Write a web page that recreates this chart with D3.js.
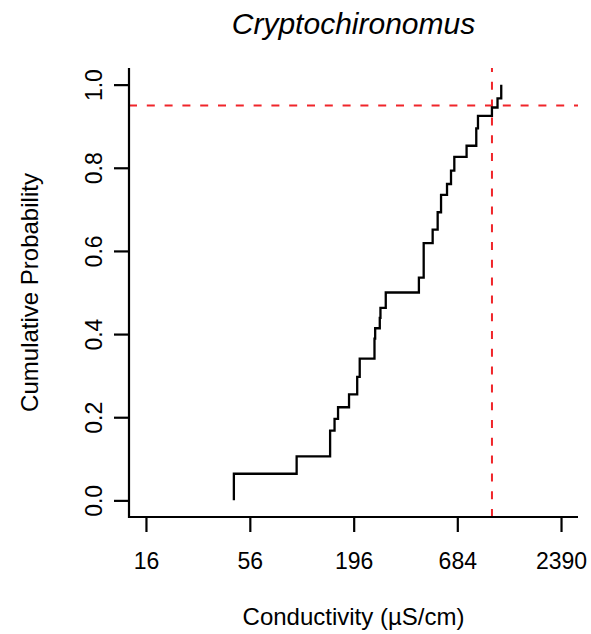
<!DOCTYPE html>
<html>
<head>
<meta charset="utf-8">
<script src="https://cdn.jsdelivr.net/npm/d3@7"></script>
<style>
  body { margin: 0; background: #fff; }
  text { font-family: "Liberation Sans", Arial, sans-serif; fill: #000; }
</style>
</head>
<body>
<svg id="chart"></svg>
<script>
let width = 591
let height = 634

// step positions of the ECDF (conductivity, uS/cm) and the level reached there
let stepX = [46.2, 98.5, 147.5, 155.6, 162.3, 185.3, 204.5, 210.8, 251.9, 254.0,
  268.5, 270.7, 288.6, 430.4, 456.0, 508.1, 539.7, 562.2, 604.2, 634.0,
  659.8, 765.0, 859.9, 877.7, 1038.7, 1111, 1162]
let stepY = [0.064, 0.106, 0.168, 0.196, 0.224, 0.255, 0.297, 0.341, 0.389, 0.414,
  0.439, 0.463, 0.500, 0.536, 0.619, 0.651, 0.693, 0.735, 0.761, 0.793,
  0.826, 0.853, 0.895, 0.925, 0.945, 0.967, 1.0]

let xTicks = [16, 56, 196, 684, 2390]
let yTicks = [0, 0.2, 0.4, 0.6, 0.8, 1.0]

// 95th percentile reference lines
let refProb = 0.95
let refCond = 1039

let svg = d3.select("#chart")
  .attr("width", width)
  .attr("height", height)

let plotLeft = 129, plotRight = 578, plotTop = 68, plotBottom = 517

let x = d3.scaleLog()
  .domain([13.04, 2933])
  .range([plotLeft, plotRight])

let y = d3.scaleLinear()
  .domain([-0.04, 1.04])
  .range([plotBottom, plotTop])

// reference lines
svg.append("line")
  .attr("x1", plotLeft).attr("x2", plotRight)
  .attr("y1", y(refProb)).attr("y2", y(refProb))
  .attr("stroke", "#f0252a")
  .attr("stroke-width", 2)
  .attr("stroke-dasharray", "8,9.8")

svg.append("line")
  .attr("x1", x(refCond)).attr("x2", x(refCond))
  .attr("y1", plotBottom).attr("y2", plotTop)
  .attr("stroke", "#f0252a")
  .attr("stroke-width", 2)
  .attr("stroke-dasharray", "8,9.8")

// ecdf
let pts = [[stepX[0], 0]].concat(stepX.map((d, i) => [d, stepY[i]]))

let line = d3.line()
  .x((d) => x(d[0]))
  .y((d) => y(d[1]))
  .curve(d3.curveStepAfter)

svg.append("path")
  .attr("d", line(pts))
  .attr("fill", "none")
  .attr("stroke", "#000")
  .attr("stroke-width", 2.3)

// axes
let xAxis = svg.append("g")
  .attr("transform", `translate(0, ${plotBottom})`)
  .call(d3.axisBottom(x).tickValues(xTicks).tickFormat(d3.format("d")).tickSize(15).tickPadding(21))
xAxis.select(".domain").attr("d", `M${plotLeft - 1},0H${plotRight}`)

let yAxis = svg.append("g")
  .attr("transform", `translate(${plotLeft}, 0)`)
  .call(d3.axisLeft(y).tickValues(yTicks).tickFormat(d3.format(".1f")).tickSize(15))
yAxis.select(".domain").attr("d", `M0,${plotTop}V${plotBottom + 1}`)

svg.selectAll(".domain, .tick line")
  .attr("stroke", "#000")
  .attr("stroke-width", 2.2)

xAxis.selectAll("text")
  .style("font-size", "23px")
  .style("font-family", "Liberation Sans, Arial, sans-serif")

yAxis.selectAll("text")
  .attr("x", null).attr("dy", null)
  .attr("text-anchor", "middle")
  .attr("transform", "translate(-27, 0) rotate(-90)")
  .style("font-size", "23px")
  .style("font-family", "Liberation Sans, Arial, sans-serif")

// titles
svg.append("text")
  .attr("x", (plotLeft + plotRight) / 2)
  .attr("y", 34)
  .attr("text-anchor", "middle")
  .style("font-size", "30px")
  .style("font-style", "italic")
  .text("Cryptochironomus")

svg.append("text")
  .attr("x", (plotLeft + plotRight) / 2)
  .attr("y", 625)
  .attr("text-anchor", "middle")
  .style("font-size", "24px")
  .text("Conductivity (µS/cm)")

svg.append("text")
  .attr("transform", `translate(38, ${(plotTop + plotBottom) / 2}) rotate(-90)`)
  .attr("text-anchor", "middle")
  .style("font-size", "24px")
  .text("Cumulative Probability")
</script>
</body>
</html>
